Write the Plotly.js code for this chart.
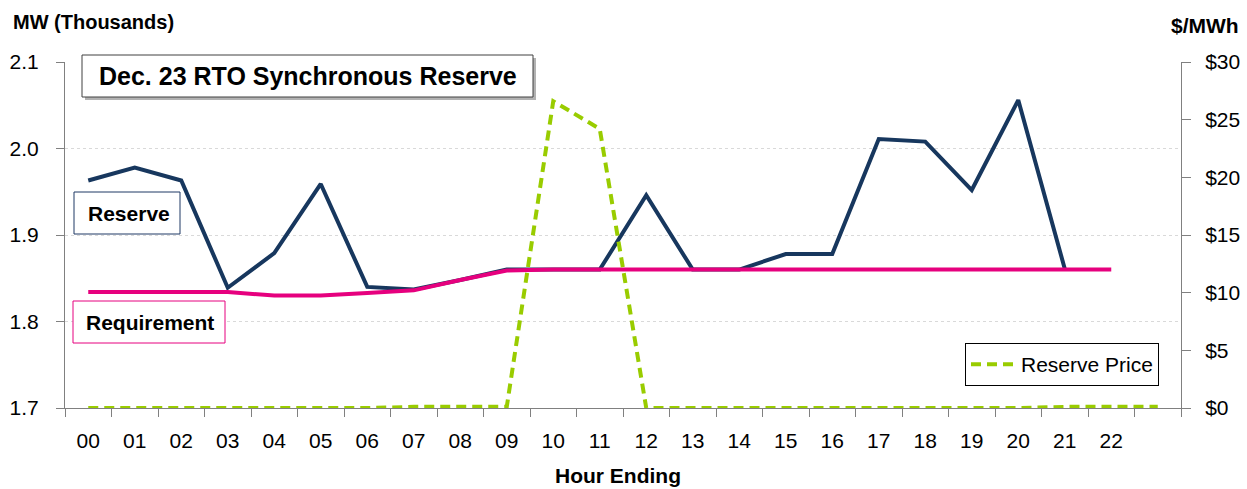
<!DOCTYPE html>
<html>
<head>
<meta charset="utf-8">
<script src="https://cdn.plot.ly/plotly-3.0.1.min.js"></script>
<style>html,body{margin:0;padding:0;background:#fff;}#chart{width:1247px;height:489px;}</style>
</head>
<body>
<div id="chart"></div>
<script>
// ---- data ----
const hours = ["00","01","02","03","04","05","06","07","08","09","10","11","12","13","14","15","16","17","18","19","20","21","22","23"];
const tickLabels = ["00","01","02","03","04","05","06","07","08","09","10","11","12","13","14","15","16","17","18","19","20","21","22"];
const reserveMW = [1.963,1.978,1.963,1.839,1.879,1.959,1.840,1.837,1.848,1.860,1.860,1.860,1.946,1.860,1.860,1.878,1.878,2.011,2.008,1.952,2.056,1.861];
const requirementMW = [1.834,1.834,1.834,1.834,1.830,1.830,1.833,1.836,1.848,1.859,1.860,1.860,1.860,1.860,1.860,1.860,1.860,1.860,1.860,1.860,1.860,1.860,1.860];
const reservePrice = [0,0,0,0,0,0,0,0.1,0.1,0.1,26.6,24.2,0,0,0,0,0,0,0,0,0,0.1,0.1,0.1];
const chartTitle = "Dec. 23 RTO Synchronous Reserve";

// ---- layout helpers ----
const W = 1247, H = 489;
const M = {l: 65, r: 66, t: 62, b: 81};
const PW = W - M.l - M.r, PH = H - M.t - M.b;
const px = x => (x - M.l) / PW;
const py = y => (H - M.b - y) / PH;

const SANS = '"Liberation Sans", Arial, sans-serif';

const xPos = hours.map(h => Number(h));

const traces = [
  {x: xPos.slice(0, reserveMW.length), y: reserveMW, type: 'scatter', mode: 'lines', name: 'Reserve',
   line: {color: '#17375E', width: 4}, showlegend: false, yaxis: 'y'},
  {x: xPos.slice(0, requirementMW.length), y: requirementMW, type: 'scatter', mode: 'lines', name: 'Requirement',
   line: {color: '#E6007E', width: 4}, showlegend: false, yaxis: 'y'},
  {x: xPos.slice(0, reservePrice.length), y: reservePrice, type: 'scatter', mode: 'lines', name: 'Reserve Price',
   line: {color: '#99CC00', width: 4, dash: '10px,6px'}, showlegend: true, yaxis: 'y2'}
];

function box(x0, y0, x1, y1, color, fill) {
  return {type: 'rect', xref: 'paper', yref: 'paper', x0: px(x0), x1: px(x1), y0: py(y1), y1: py(y0),
          line: {color: color, width: 1}, fillcolor: fill, layer: 'above'};
}

const layout = {
  width: W, height: H,
  margin: M,
  paper_bgcolor: '#ffffff', plot_bgcolor: '#ffffff',
  font: {family: SANS, size: 21, color: '#000'},
  xaxis: {
    range: [-0.5, 23.5], tickmode: 'array', tickvals: xPos.slice(0, tickLabels.length), ticktext: tickLabels,
    ticks: '', showgrid: false, zeroline: false, showline: true, linecolor: '#808080', linewidth: 1,
    tickfont: {family: SANS, size: 21, color: '#000'}, ticklabelstandoff: 14,
    minor: {tickmode: 'linear', tick0: 0.5, dtick: 1, ticks: 'outside', ticklen: 8, tickcolor: '#808080', showgrid: false}
  },
  yaxis: {
    range: [1.7, 2.1], dtick: 0.1, tickformat: '.1f', ticks: 'outside', ticklen: 8, tickcolor: '#808080',
    showline: true, linecolor: '#808080', linewidth: 1, zeroline: false,
    showgrid: true, gridcolor: '#D9D9D9', griddash: 'dot', gridwidth: 1,
    tickfont: {family: SANS, size: 21, color: '#000'}, ticklabelstandoff: 13
  },
  yaxis2: {
    range: [0, 30], dtick: 5, tickprefix: '$', overlaying: 'y', side: 'right', ticks: 'outside', ticklen: 9,
    tickcolor: '#808080', showline: true, linecolor: '#808080', linewidth: 1, showgrid: false, zeroline: false,
    tickfont: {family: SANS, size: 21, color: '#000'}, ticklabelstandoff: 10
  },
  showlegend: true,
  legend: {
    x: px(965), y: py(343), xanchor: 'left', yanchor: 'top',
    bordercolor: '#000', borderwidth: 1, bgcolor: '#fff',
    font: {family: SANS, size: 21, color: '#000'},
    itemwidth: 45
  },
  shapes: [
    {type: 'rect', xref: 'paper', yref: 'paper', x0: px(85), x1: px(536), y0: py(100), y1: py(58),
     line: {width: 0}, fillcolor: 'rgba(0,0,0,0.3)', layer: 'above'},
    box(82, 55, 533, 97, '#404040', '#ffffff'),
    box(74, 192, 180, 234, '#1F3864', '#ffffff'),
    box(73, 301, 225, 343, '#E6007E', '#ffffff')
  ],
  annotations: [
    {text: chartTitle, xref: 'paper', yref: 'paper', x: px(307.5), y: py(76), xanchor: 'center', yanchor: 'middle',
     showarrow: false, font: {family: SANS, size: 25, color: '#000', weight: 'bold'}},
    {text: 'Reserve', xref: 'paper', yref: 'paper', x: px(86), y: py(213), xanchor: 'left', yanchor: 'middle',
     showarrow: false, font: {family: SANS, size: 21, color: '#000', weight: 'bold'}},
    {text: 'Requirement', xref: 'paper', yref: 'paper', x: px(84), y: py(322), xanchor: 'left', yanchor: 'middle',
     showarrow: false, font: {family: SANS, size: 21, color: '#000', weight: 'bold'}},
    {text: 'MW (Thousands)', xref: 'paper', yref: 'paper', x: px(11), y: py(22), xanchor: 'left', yanchor: 'middle',
     showarrow: false, font: {family: SANS, size: 20, color: '#000', weight: 'bold'}},
    {text: '$/MWh', xref: 'paper', yref: 'paper', x: px(1241), y: py(26), xanchor: 'right', yanchor: 'middle',
     showarrow: false, font: {family: SANS, size: 21, color: '#000', weight: 'bold'}},
    {text: 'Hour Ending', xref: 'paper', yref: 'paper', x: px(618), y: py(475), xanchor: 'center', yanchor: 'middle',
     showarrow: false, font: {family: SANS, size: 21, color: '#000', weight: 'bold'}}
  ]
};

Plotly.newPlot('chart', traces, layout, {displayModeBar: false, staticPlot: true});
</script>
</body>
</html>
